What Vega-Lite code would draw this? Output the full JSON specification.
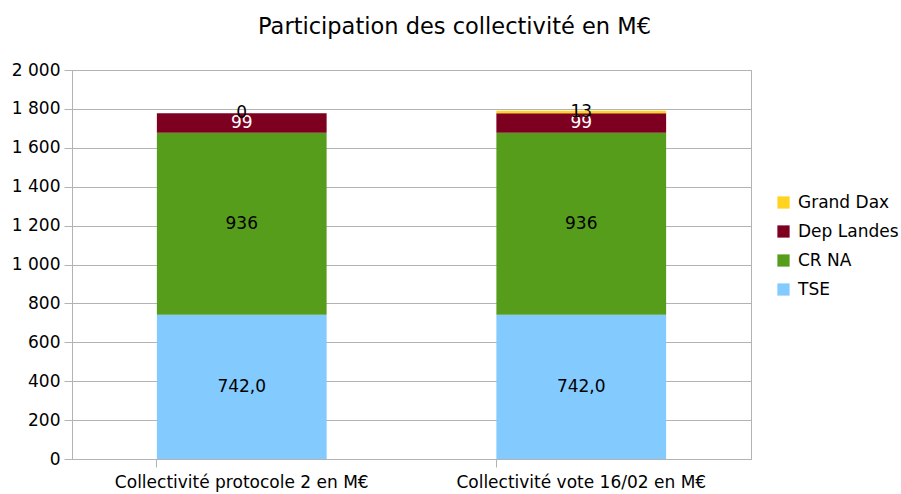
{
  "$schema": "https://vega.github.io/schema/vega-lite/v6.json",
  "width": 679,
  "height": 389,
  "autosize": "none",
  "padding": {"left": 72, "top": 70, "right": 150, "bottom": 35},
  "background": "white",
  "config": {
    "font": "DejaVu Sans",
    "view": {"stroke": "#b3b3b3", "strokeWidth": 1}
  },
  "title": {
    "text": "Participation des collectivité en M€",
    "fontSize": 22.5,
    "fontWeight": "normal",
    "font": "DejaVu Sans",
    "color": "#000000",
    "anchor": "middle",
    "dx": 43,
    "offset": 23
  },
  "data": {
    "values": [
      {"cat": "Collectivité protocole 2 en M€", "serie": "TSE", "ord": 1, "value": 742.0, "label": "742,0"},
      {"cat": "Collectivité protocole 2 en M€", "serie": "CR NA", "ord": 2, "value": 936, "label": "936"},
      {"cat": "Collectivité protocole 2 en M€", "serie": "Dep Landes", "ord": 3, "value": 99, "label": "99"},
      {"cat": "Collectivité protocole 2 en M€", "serie": "Grand Dax", "ord": 4, "value": 0, "label": "0"},
      {"cat": "Collectivité vote 16/02 en M€", "serie": "TSE", "ord": 1, "value": 742.0, "label": "742,0"},
      {"cat": "Collectivité vote 16/02 en M€", "serie": "CR NA", "ord": 2, "value": 936, "label": "936"},
      {"cat": "Collectivité vote 16/02 en M€", "serie": "Dep Landes", "ord": 3, "value": 99, "label": "99"},
      {"cat": "Collectivité vote 16/02 en M€", "serie": "Grand Dax", "ord": 4, "value": 13, "label": "13"}
    ]
  },
  "transform": [
    {"stack": "value", "groupby": ["cat"], "sort": [{"field": "ord", "order": "ascending"}], "as": ["v0", "v1"]},
    {"calculate": "(datum.v0 + datum.v1) / 2", "as": "mid"}
  ],
  "encoding": {
    "x": {
      "field": "cat",
      "type": "nominal",
      "sort": null,
      "title": null,
      "scale": {"paddingInner": 0.5, "paddingOuter": 0.25},
      "axis": {
        "labelAngle": 0,
        "labelFontSize": 17,
        "labelColor": "#000000",
        "labelPadding": 7,
        "labelLimit": 0,
        "domainColor": "#b3b3b3",
        "tickColor": "#b3b3b3",
        "tickSize": 8,
        "bandPosition": 0,
        "grid": false
      }
    }
  },
  "layer": [
    {
      "mark": {"type": "bar"},
      "encoding": {
        "y": {
          "field": "v0",
          "type": "quantitative",
          "title": null,
          "scale": {"domain": [0, 2000]},
          "axis": {
            "values": [0, 200, 400, 600, 800, 1000, 1200, 1400, 1600, 1800, 2000],
            "labelExpr": "replace(format(datum.value, ','), ',', ' ')",
            "labelOverlap": false,
            "labelFontSize": 17,
            "labelColor": "#000000",
            "labelPadding": 4,
            "tickSize": 8,
            "tickColor": "#b3b3b3",
            "domainColor": "#b3b3b3",
            "gridColor": "#b3b3b3",
            "grid": true
          }
        },
        "y2": {"field": "v1"},
        "color": {
          "field": "serie",
          "type": "nominal",
          "scale": {
            "domain": ["Grand Dax", "Dep Landes", "CR NA", "TSE"],
            "range": ["#ffd320", "#7e0021", "#579d1c", "#83caff"]
          },
          "legend": {
            "title": null,
            "orient": "none",
            "legendX": 703,
            "legendY": 124,
            "symbolType": "square",
            "symbolSize": 150,
            "symbolStrokeWidth": 0,
            "labelFontSize": 17,
            "labelColor": "#000000",
            "rowPadding": 11,
            "labelOffset": 6
          }
        }
      }
    },
    {
      "mark": {"type": "text", "fontSize": 17, "baseline": "middle", "align": "center"},
      "encoding": {
        "y": {
          "field": "mid",
          "type": "quantitative",
          "title": null,
          "axis": {
            "values": [0, 200, 400, 600, 800, 1000, 1200, 1400, 1600, 1800, 2000],
            "labelExpr": "replace(format(datum.value, ','), ',', ' ')",
            "labelOverlap": false,
            "labelFontSize": 17,
            "labelColor": "#000000",
            "labelPadding": 4,
            "tickSize": 8,
            "tickColor": "#b3b3b3",
            "domainColor": "#b3b3b3",
            "gridColor": "#b3b3b3",
            "grid": true
          }
        },
        "text": {"field": "label"},
        "color": {
          "condition": {"test": "datum.serie === 'Dep Landes'", "value": "#ffffff"},
          "value": "#000000"
        }
      }
    }
  ]
}
